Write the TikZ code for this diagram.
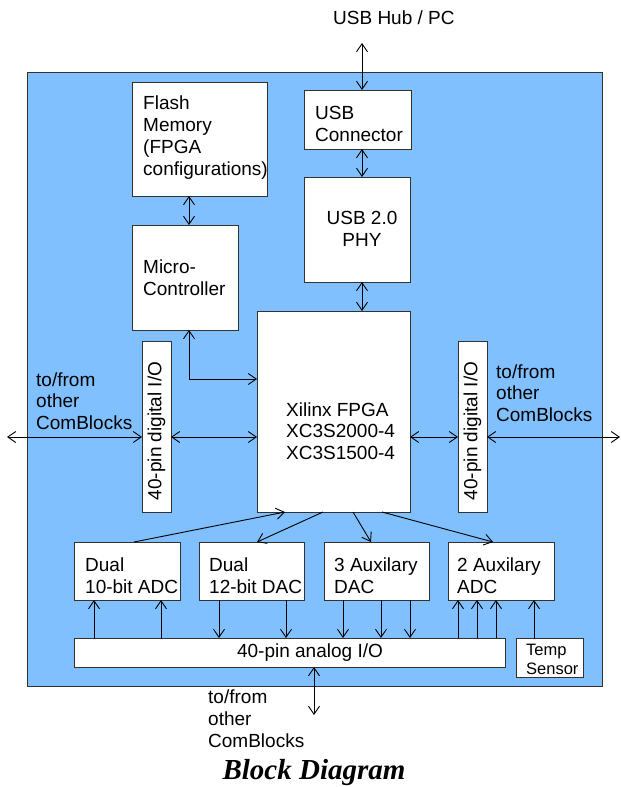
\documentclass[tikz,border=0pt]{standalone}
\usepackage{fontspec}
\setmainfont{Liberation Sans}
\newfontfamily\titlefont{Liberation Serif}
\usetikzlibrary{arrows.meta}
\definecolor{bgblue}{RGB}{128,192,255}
\definecolor{edge}{RGB}{50,50,50}
\begin{document}
\begin{tikzpicture}[x=1pt,y=-1pt,
  >={Straight Barb[length=8pt,width=11pt]},
  box/.style={draw=edge, fill=white, line width=0.9pt, anchor=north west, inner sep=0pt, outer sep=0pt},
  txt/.style={anchor=base west, inner sep=0pt, align=left, font=\fontsize{19}{22}\selectfont},
  ctxt/.style={anchor=base, inner sep=0pt, align=center, font=\fontsize{19}{22}\selectfont},
  rtxt/.style={rotate=90, inner sep=0pt, font=\fontsize{19}{22}\selectfont},
  conn/.style={line width=0.9pt, <->},
  arr/.style={line width=0.9pt, ->}]
\useasboundingbox (0,0) rectangle (621,787);
% board
\node[draw=edge, fill=bgblue, line width=1pt, anchor=north west, inner sep=0pt, outer sep=0pt,
      minimum width=575pt, minimum height=614pt] (board) at (27,72) {};
% boxes
\node[box, minimum width=135pt, minimum height=114pt] (flash) at (132,82) {};
\node[box, minimum width=107pt, minimum height=59pt] (conn) at (304,90) {};
\node[box, minimum width=106pt, minimum height=105pt] (phy) at (304,177) {};
\node[box, minimum width=106pt, minimum height=105pt] (micro) at (132,225) {};
\node[box, minimum width=153pt, minimum height=201pt] (fpga) at (257,311) {};
\node[box, minimum width=29pt, minimum height=171pt] (lio) at (142,341) {};
\node[box, minimum width=29pt, minimum height=171pt] (rio) at (458,341) {};
\node[box, minimum width=106pt, minimum height=58pt] (adc10) at (74,542) {};
\node[box, minimum width=105pt, minimum height=58pt] (dac12) at (199,542) {};
\node[box, minimum width=105pt, minimum height=58pt] (dac3) at (324,542) {};
\node[box, minimum width=106pt, minimum height=58pt] (adc2) at (448,542) {};
\node[box, minimum width=431pt, minimum height=29pt] (analog) at (74,638) {};
\node[box, minimum width=67pt, minimum height=39pt] (temp) at (516,638) {};
% texts (anchor = baseline of the last line)
\node[ctxt, anchor=base west] (hub) at (333,24) {USB Hub / PC};
\node[txt] (tflash) at (143,175) {Flash\\Memory\\(FPGA\\configurations)};
\node[txt] (tconn) at (315,141) {USB\\Connector};
\node[ctxt] (tphy) at (362,246) {USB 2.0\\PHY};
\node[txt] (tmicro) at (143,295) {Micro-\\Controller};
\node[txt, font=\fontsize{19}{21.5}\selectfont] (tfpga) at (286,459) {Xilinx FPGA\\XC3S2000-4\\XC3S1500-4};
\node[txt, font=\fontsize{19}{21.5}\selectfont] (tleft) at (36,429) {to/from\\other\\ComBlocks};
\node[txt, font=\fontsize{19}{21.5}\selectfont] (tright) at (496,421) {to/from\\other\\ComBlocks};
\node[rtxt] (tlio) at (156.5,431) {40-pin digital I/O};
\node[rtxt] (trio) at (472.5,431) {40-pin digital I/O};
\node[txt] (tadc10) at (85,593) {Dual\\10-bit ADC};
\node[txt] (tdac12) at (209,593) {Dual\\12-bit DAC};
\node[txt] (tdac3) at (334,593) {3 Auxilary\\DAC};
\node[txt] (tadc2) at (457,593) {2 Auxilary\\ADC};
\node[ctxt] (tanalog) at (310,657) {40-pin analog I/O};
\node[txt, font=\fontsize{16.5}{19}\selectfont] (ttemp) at (526,674) {Temp\\Sensor};
\node[txt] (tbottom) at (208,747) {to/from\\other\\ComBlocks};
\node[anchor=base, inner sep=0pt, font=\titlefont\bfseries\itshape\fontsize{29}{30}\selectfont] (title) at (314,779) {Block Diagram};
% connectors
\coordinate (ux) at (362,43);
\draw[conn] (ux) -- (ux |- conn.north);
\draw[conn] (conn.south -| ux) -- (phy.north -| ux);
\draw[conn] (phy.south -| ux) -- (fpga.north -| ux);
\coordinate (mx) at (189,0);
\coordinate (my) at (0,379);
\draw[conn] (flash.south -| mx) -- (micro.north -| mx);
\draw[conn] (micro.south -| mx) |- (fpga.west |- my);
\coordinate (lext) at (7,437);
\coordinate (rext) at (620,437);
\draw[conn] (lext) -- (lio.west |- lext);
\draw[conn] (lio.east |- lext) -- (fpga.west |- lext);
\draw[conn] (fpga.east |- lext) -- (rio.west |- lext);
\draw[conn] (rio.east |- lext) -- (rext);
% fpga to converters
\draw[arr] ([xshift=60pt]adc10.north west) -- ([xshift=28pt]fpga.south west);
\draw[arr] ([xshift=66pt]fpga.south west) -- ([xshift=58pt]dac12.north west);
\draw[arr] ([xshift=96pt]fpga.south west) -- ([xshift=47pt]dac3.north west);
\draw[arr] ([xshift=125pt]fpga.south west) -- ([xshift=45pt]adc2.north west);
% analog I/O links
\foreach \x in {94,161}{\coordinate (tmp) at (\x,0); \draw[arr] (analog.north -| tmp) -- (adc10.south -| tmp);}
\foreach \x in {219,286}{\coordinate (tmp) at (\x,0); \draw[arr] (dac12.south -| tmp) -- (analog.north -| tmp);}
\foreach \x in {343,381,410}{\coordinate (tmp) at (\x,0); \draw[arr] (dac3.south -| tmp) -- (analog.north -| tmp);}
\foreach \x in {458,477,496}{\coordinate (tmp) at (\x,0); \draw[arr] (analog.north -| tmp) -- (adc2.south -| tmp);}
\coordinate (tx) at (534,0);
\draw[arr] (temp.north -| tx) -- (adc2.south -| tx);
\coordinate (bext) at (314,715);
\draw[conn] (analog.south -| bext) -- (bext);
\end{tikzpicture}
\end{document}
